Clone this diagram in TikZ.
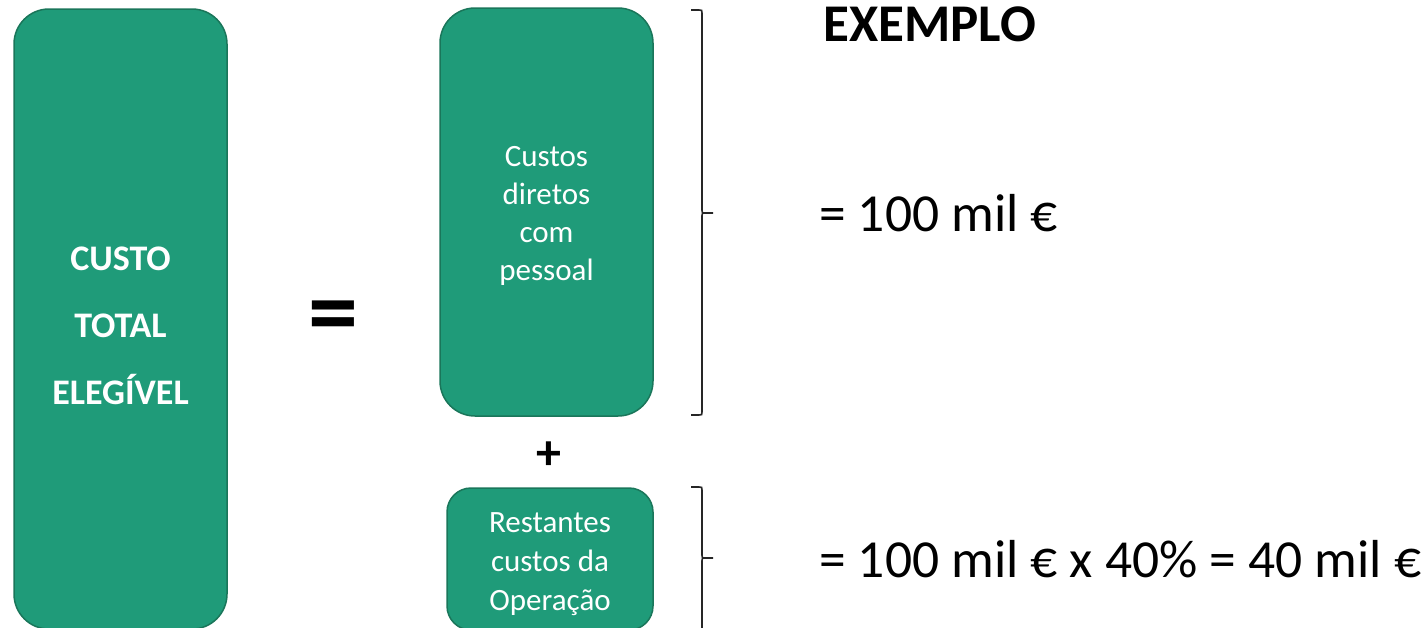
\documentclass[tikz,border=0pt]{standalone}
\usepackage{fontspec}
\setmainfont{Carlito}
\usepackage{tikz}
\usetikzlibrary{positioning}
\definecolor{verde}{RGB}{31,155,121}
\definecolor{verdeborda}{RGB}{26,118,90}

\begin{document}
\begin{tikzpicture}[x=1pt, y=-1pt,
	caixa/.style={draw=verdeborda, line width=1.5pt, fill=verde, inner sep=0pt},
	rotulo/.style={text=white, align=center, inner sep=0pt},
	chave/.style={draw=black!85, line width=1.6pt}]
\useasboundingbox (0,0) rectangle (1424,627);

\node[caixa, rounded corners=35pt, minimum width=213pt, minimum height=620pt,
	label={[rotulo, yshift=-7pt, font=\fontsize{36}{67}\selectfont\bfseries]center:{CUSTO\\TOTAL\\ELEGÍVEL}}]
	(total) at (120.5,319) {};
\node[caixa, rounded corners=35pt, minimum width=213pt, minimum height=408pt,
	label={[rotulo, yshift=-4pt, font=\fontsize{31}{38}\selectfont]center:{Custos\\diretos\\com\\pessoal}}]
	(pessoal) at (546.5,212) {};
\node[caixa, rounded corners=24pt, minimum width=206pt, minimum height=142pt,
	label={[rotulo, yshift=-5pt, font=\fontsize{31}{39}\selectfont]center:{Restantes\\custos da\\Operação}}]
	(restantes) at (550,559) {};

\node[font=\fontsize{100}{100}\selectfont\bfseries] (igual) at (333,323) {=};
\node[font=\fontsize{50}{50}\selectfont\bfseries] (mais) at (549,456) {+};

\draw[chave] (691,10) -- (699,10) .. controls (702,10) .. (702,13) -- (702,209)
	.. controls (702,213) .. (706,213) -- (713,213);
\draw[chave] (706,213) .. controls (702,213) .. (702,217) -- (702,412)
	.. controls (702,415) .. (699,415) -- (691,415);
\draw[chave] (691,487) -- (699,487) .. controls (702,487) .. (702,490) -- (702,554)
	.. controls (702,558) .. (706,558) -- (713,558);
\draw[chave] (706,558) .. controls (702,558) .. (702,562) -- (702,640);

\node[anchor=base west, inner sep=0pt, font=\fontsize{53}{53}\selectfont\bfseries] (exemplo) at (823,41) {EXEMPLO};
\node[anchor=base west, inner sep=0pt, font=\fontsize{53.5}{53}\selectfont] (valor1) at (819,231) {= 100 mil €};
\node[anchor=base west, inner sep=0pt, font=\fontsize{53.5}{53}\selectfont] (valor2) at (819,577) {= 100 mil € x 40\% = 40 mil €};
\end{tikzpicture}
\end{document}
